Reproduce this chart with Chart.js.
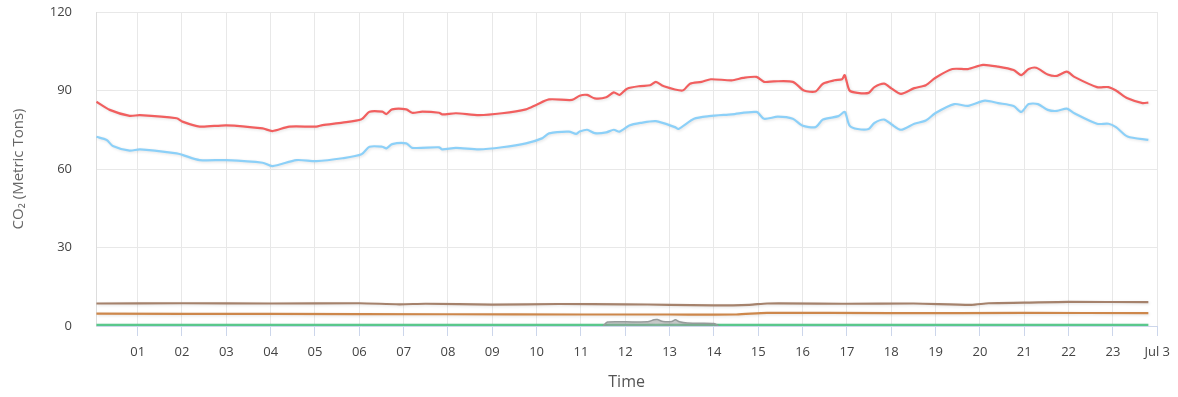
<!DOCTYPE html>
<html>
<head>
<meta charset="utf-8">
<script src="https://cdn.jsdelivr.net/npm/chart.js@4/dist/chart.umd.min.js"></script>
<style>
html,body{margin:0;padding:0;background:#fff;}
#wrap{width:1178px;height:397px;position:relative;}
</style>
</head>
<body>
<div id="wrap"><canvas id="c" width="1178" height="397"></canvas></div>
<script>
// ---- data (hours since Jul 2 00:00, CO2 metric tons) ----
const tickHours = [1,2,3,4,5,6,7,8,9,10,11,12,13,14,15,16,17,18,19,20,21,22,23,24];
const tickLabels = ["01","02","03","04","05","06","07","08","09","10","11","12","13","14","15","16","17","18","19","20","21","22","23","Jul 3"];
const yTicks = [0,30,60,90,120];

const redHours = [0.07,0.37,0.82,1.05,1.88,2.01,2.40,3.00,3.82,4.04,4.42,5.03,5.17,5.62,6.05,6.23,6.52,6.61,6.74,7.06,7.19,7.42,7.80,7.87,8.18,8.70,9.22,9.76,9.99,10.28,10.80,10.97,11.14,11.31,11.57,11.74,11.87,12.04,12.34,12.56,12.69,12.86,13.29,13.46,13.72,13.93,14.40,14.66,14.96,15.13,15.35,15.78,16.03,16.29,16.46,16.72,16.89,16.95,17.06,17.24,17.49,17.62,17.84,18.01,18.22,18.52,18.78,18.99,19.38,19.73,20.07,20.41,20.76,20.93,21.10,21.27,21.53,21.74,21.96,22.13,22.64,22.90,23.07,23.33,23.67,23.80];
const redValues = [85.7,82.6,80.3,80.6,79.4,78.1,76.2,76.7,75.5,74.5,76.2,76.2,76.8,77.7,79.0,81.9,81.9,81.0,82.8,82.8,81.5,81.9,81.5,80.9,81.3,80.6,81.3,82.8,84.5,86.6,86.4,88.0,88.3,87.0,87.4,89.3,88.3,90.7,91.7,92.0,93.3,91.7,90.0,92.6,93.3,94.3,93.9,94.8,95.2,93.3,93.5,93.3,90.0,89.6,92.6,93.9,94.3,95.9,90.0,89.1,89.1,91.3,92.6,90.7,88.7,90.9,92.0,94.8,98.2,98.2,99.8,99.1,97.8,95.9,98.2,98.7,96.1,95.6,97.2,95.2,91.3,91.3,90.0,87.0,85.2,85.4];

const blueHours = [0.07,0.30,0.44,0.82,1.05,1.88,2.01,2.40,3.00,3.82,4.04,4.58,5.03,5.62,6.05,6.23,6.52,6.61,6.74,7.06,7.19,7.80,7.87,8.18,8.70,9.22,9.76,10.12,10.28,10.73,10.89,10.97,11.14,11.31,11.57,11.74,11.87,12.09,12.34,12.69,13.12,13.20,13.55,13.89,14.40,14.96,15.13,15.44,15.78,15.99,16.29,16.46,16.81,16.95,17.06,17.24,17.49,17.62,17.84,18.01,18.22,18.52,18.78,18.99,19.42,19.73,20.11,20.41,20.76,20.93,21.10,21.31,21.53,21.74,21.96,22.13,22.64,22.90,23.07,23.33,23.80];
const blueValues = [72.3,71.1,68.8,67.0,67.5,66.0,65.4,63.4,63.4,62.4,61.1,63.4,63.0,64.1,65.6,68.5,68.5,67.9,69.5,69.8,68.1,68.3,67.5,68.1,67.5,68.3,69.8,71.7,73.6,74.3,73.4,74.3,75.0,73.7,74.0,75.0,74.3,76.6,77.6,78.3,76.0,75.3,79.2,80.2,80.9,81.8,79.2,80.0,79.2,76.6,76.0,78.9,80.2,81.8,76.6,75.3,75.3,77.6,78.9,77.0,75.0,77.3,78.5,81.3,84.8,84.1,86.1,85.2,84.1,81.8,84.8,84.8,82.6,82.2,83.1,81.3,77.3,77.3,76.0,72.4,71.1];

const brownHours = [0.07,2,4,6,6.9,7.5,9,10.5,12,13,14,14.8,15.2,17,18.5,19.8,20.2,21,22,23.8];
const brownValues = [8.6,8.7,8.6,8.7,8.3,8.5,8.2,8.4,8.3,8.1,7.9,8.1,8.6,8.5,8.6,8.1,8.7,8.9,9.2,9.1];

const orangeHours = [0.07,4,8,11,13,14.5,15.2,18,21,23.8];
const orangeValues = [4.7,4.6,4.5,4.4,4.4,4.4,5.0,4.9,5.0,4.9];

const greenHours = [0.07,23.8];
const greenValues = [0.4,0.4];

const grayHours = [11.5,11.6,12.0,12.5,12.65,12.72,12.85,13.05,13.13,13.22,13.4,14.0,14.1];
const grayValues = [0,1.5,1.6,1.6,2.4,2.5,1.7,1.7,2.4,1.6,1.1,1.0,0];

function pts(h, v){ return h.map((x,i)=>({x:x, y:v[i]})); }

const shadowPlugin = {
  id:'shadow',
  beforeDatasetsDraw(chart){ const c=chart.ctx; c.save(); c.shadowColor='rgba(0,0,0,0.12)'; c.shadowBlur=3; c.shadowOffsetX=1; c.shadowOffsetY=1; },
  afterDatasetsDraw(chart){ chart.ctx.restore(); }
};

const FONT = "'Open Sans', 'DejaVu Sans', sans-serif";

function ds(label, h, v, color, extra){
  return Object.assign({label:label, data:pts(h,v), borderColor:color, backgroundColor:color,
    borderWidth:2.2, pointRadius:0, tension:0.25, fill:false}, extra||{});
}

new Chart(document.getElementById('c'), {
  type:'line',
  data:{ datasets:[
    ds('Total', redHours, redValues, 'rgb(241,95,95)'),
    ds('Grid', blueHours, blueValues, 'rgb(140,208,248)'),
    ds('Gas', brownHours, brownValues, 'rgb(165,130,108)'),
    ds('Other', orangeHours, orangeValues, 'rgb(205,135,75)'),
    ds('Gray', grayHours, grayValues, 'rgb(150,155,155)', {fill:'origin', backgroundColor:'rgba(165,170,170,0.5)', borderWidth:1.5}),
    ds('Solar', greenHours, greenValues, 'rgb(90,200,140)')
  ]},
  options:{
    responsive:false, animation:false,
    layout:{padding:{left:0, right:18, top:12, bottom:0}},
    plugins:{legend:{display:false}, tooltip:{enabled:false}},
    scales:{
      x:{
        type:'linear', min:0.06, max:24,
        afterBuildTicks(s){ s.ticks = tickHours.map(v=>({value:v})); },
        afterFit(s){ s.height = 71; },
        grid:{color:'#e8e8e8', lineWidth:1, tickLength:10, tickColor:'#ccd6eb', drawTicks:true},
        border:{color:'#ccd6eb'},
        ticks:{autoSkip:false, maxRotation:0, padding:8, color:'#444', font:{family:FONT, size:13},
          callback(v){ const i = tickHours.indexOf(v); return i>=0 ? tickLabels[i] : ''; }},
        title:{display:true, text:'Time', color:'#555', font:{family:FONT, size:16}, padding:{top:4, bottom:5}}
      },
      y:{
        min:0, max:120,
        afterBuildTicks(s){ s.ticks = yTicks.map(v=>({value:v})); },
        afterFit(s){ s.width = 96; s.paddingTop = 0; s.paddingBottom = 0; },
        grid:{color:'#e8e8e8', drawTicks:false},
        border:{color:'#dddddd'},
        ticks:{padding:24, color:'#444', font:{family:FONT, size:13}},
        title:{display:true, text:'CO₂ (Metric Tons)', color:'#666', font:{family:FONT, size:15}, padding:{top:10, bottom:8}}
      }
    }
  },
  plugins:[shadowPlugin]
});
</script>
</body>
</html>
